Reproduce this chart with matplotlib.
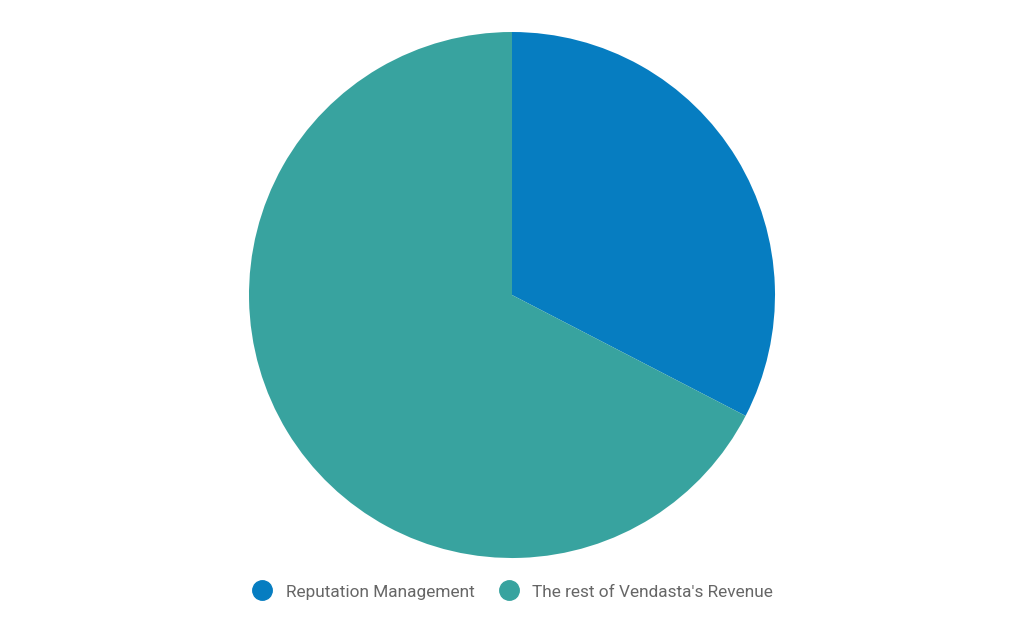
import matplotlib.pyplot as plt
from matplotlib.lines import Line2D

plt.rcParams['font.family'] = ['Roboto', 'DejaVu Sans']

# Share of revenue (%)
labels = ['Reputation Management', "The rest of Vendasta's Revenue"]
values = [32.6, 67.4]
colors = ['#067dc1', '#38a39f']

fig = plt.figure(figsize=(10.24, 6.34), dpi=100)
W, H = 1024, 634
cx, cy, r = 512, 295, 263
ax = fig.add_axes([(cx - r) / W, 1 - (cy + r) / H, 2 * r / W, 2 * r / H])
ax.pie(values, colors=colors, startangle=90, counterclock=False,
       radius=1, wedgeprops=dict(linewidth=0))
ax.set_xlim(-1, 1)
ax.set_ylim(-1, 1)
ax.set_aspect('equal')
ax.axis('off')

# legend with round markers
handles = [Line2D([0], [0], marker='o', linestyle='', markersize=14,
                  markerfacecolor=c, markeredgecolor=c) for c in colors]
fig.legend(handles, labels, loc='center', bbox_to_anchor=(512 / W, 1 - 592 / H),
           ncol=2, frameon=False, fontsize=12.4, labelcolor='#666666',
           handletextpad=0.7, columnspacing=1.35, handlelength=1.3)

fig.savefig('out.png', dpi=100, facecolor='white')
